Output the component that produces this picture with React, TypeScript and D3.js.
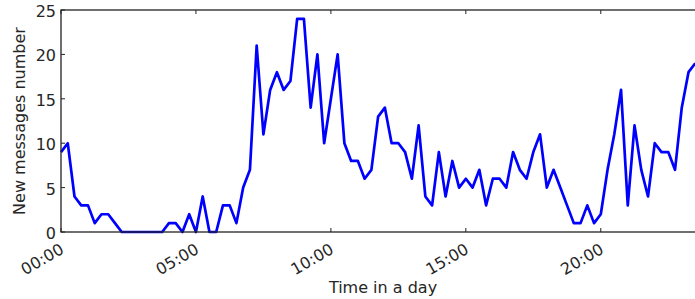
import React, { useEffect, useRef } from "react";
import * as d3 from "d3";

// New messages per 15-minute interval, starting at 00:00
const messageCounts: number[] = [
  9, 10, 4, 3, 3, 1, 2, 2, 1, 0, 0, 0, 0, 0, 0, 0, 1, 1, 0, 2,
  0, 4, 0, 0, 3, 3, 1, 5, 7, 21, 11, 16, 18, 16, 17, 24, 24, 14, 20, 10,
  15, 20, 10, 8, 8, 6, 7, 13, 14, 10, 10, 9, 6, 12, 4, 3, 9, 4, 8, 5,
  6, 5, 7, 3, 6, 6, 5, 9, 7, 6, 9, 11, 5, 7, 5, 3, 1, 1, 3, 1,
  2, 7, 11, 16, 3, 12, 7, 4, 10, 9, 9, 7, 14, 18, 19,
];
const intervalMinutes = 15;
const dayStart = new Date(2000, 0, 1, 0, 0);
const dayEnd = new Date(2000, 0, 1, 23, 45);
const xTickLabels: string[] = ["00:00", "05:00", "10:00", "15:00", "20:00"];
const yTickValues: number[] = [0, 5, 10, 15, 20, 25];
const xLabel = "Time in a day";
const yLabel = "New messages number";

const W = 695;
const H = 299;
const M = { left: 61, top: 10, right: 702, bottom: 232 };
const FONT = "'DejaVu Sans', sans-serif";
const TEXT = "#262626";

export default function App() {
  const ref = useRef<SVGSVGElement>(null);

  useEffect(() => {
    const svg = d3.select(ref.current);
    svg.selectAll("*").remove();

    const times = messageCounts.map((_, i) => d3.timeMinute.offset(dayStart, i * intervalMinutes));
    const x = d3.scaleTime().domain([dayStart, dayEnd]).range([M.left, M.right]);
    const y = d3.scaleLinear().domain([0, 25]).range([M.bottom, M.top]);

    const tickDates = xTickLabels.map((s) => {
      const [h, m] = s.split(":").map(Number);
      return new Date(2000, 0, 1, h, m);
    });

    const g = svg.append("g");

    // line
    const line = d3
      .line<number>()
      .x((_, i) => x(times[i]))
      .y((d) => y(d));
    g.append("path")
      .datum(messageCounts)
      .attr("fill", "none")
      .attr("stroke", "#0000ff")
      .attr("stroke-width", 2.7)
      .attr("stroke-linejoin", "round")
      .attr("d", line);

    // frame
    g.append("rect")
      .attr("x", M.left)
      .attr("y", M.top)
      .attr("width", M.right - M.left)
      .attr("height", M.bottom - M.top)
      .attr("fill", "none")
      .attr("stroke", "#222")
      .attr("stroke-width", 1.3);

    const tickLen = 4;
    // x ticks (inside, bottom and top)
    tickDates.forEach((d, i) => {
      const px = x(d);
      g.append("line").attr("x1", px).attr("x2", px).attr("y1", M.bottom).attr("y2", M.bottom - tickLen).attr("stroke", "#222");
      g.append("line").attr("x1", px).attr("x2", px).attr("y1", M.top).attr("y2", M.top + tickLen).attr("stroke", "#222");
      g.append("text")
        .attr("transform", `translate(${px - 2},${M.bottom + 10}) rotate(-30)`)
        .attr("text-anchor", "end")
        .attr("dominant-baseline", "hanging")
        .attr("font-family", FONT)
        .attr("font-size", 16)
        .attr("fill", TEXT)
        .text(xTickLabels[i]);
    });

    // y ticks
    yTickValues.forEach((v) => {
      const py = y(v);
      g.append("line").attr("x1", M.left).attr("x2", M.left + tickLen).attr("y1", py).attr("y2", py).attr("stroke", "#222");
      g.append("line").attr("x1", M.right).attr("x2", M.right - tickLen).attr("y1", py).attr("y2", py).attr("stroke", "#222");
      g.append("text")
        .attr("x", M.left - 5)
        .attr("y", py + 7)
        .attr("text-anchor", "end")
        .attr("font-family", FONT)
        .attr("font-size", 16)
        .attr("fill", TEXT)
        .text(String(v));
    });

    // axis labels
    g.append("text")
      .attr("x", 383)
      .attr("y", 293)
      .attr("text-anchor", "middle")
      .attr("font-family", FONT)
      .attr("font-size", 16)
      .attr("fill", TEXT)
      .text(xLabel);

    g.append("text")
      .attr("transform", `translate(25,${(M.top + M.bottom) / 2}) rotate(-90)`)
      .attr("text-anchor", "middle")
      .attr("font-family", FONT)
      .attr("font-size", 16)
      .attr("fill", TEXT)
      .text(yLabel);
  }, []);

  return (
    <div style={{ position: "absolute", left: 0, top: 0, width: W, height: H, background: "#fff" }}>
      <svg ref={ref} width={W} height={H} style={{ display: "block", overflow: "hidden" }} />
    </div>
  );
}
